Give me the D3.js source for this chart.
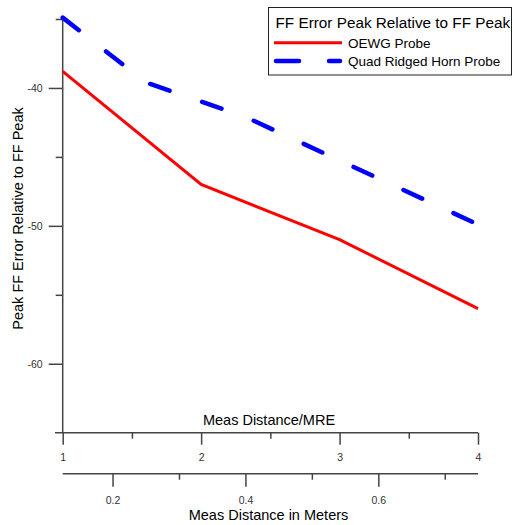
<!DOCTYPE html>
<html>
<head>
<meta charset="utf-8">
<script src="https://cdn.jsdelivr.net/npm/d3@7"></script>
<style>
  body { margin: 0; background: #fff; }
  svg { display: block; font-family: "Liberation Sans", Arial, sans-serif; }
</style>
</head>
<body>
<div id="chart"></div>
<script>
// dados
const mre = [1, 2, 3, 4];
const oewg = [-38.8, -47.0, -51.0, -56.0];
const qrhMeters = [0.125, 0.25, 0.4, 0.75];
const qrh = [-34.9, -39.6, -42.1, -49.9];

const yMajor = [-40, -50, -60];
const yMinor = [-35, -45, -55];
const mreMajor = [1, 2, 3, 4];
const mreMinor = [1.5, 2.5, 3.5];
const mMajor = [0.2, 0.4, 0.6];
const mMinor = [0.3, 0.5, 0.7];

const width = 513, height = 525;
const axisColor = '#444';
const tickFont = '10.5px';

const svg = d3.select('#chart').append('svg')
  .attr('width', width)
  .attr('height', height);

// escalas
const x = d3.scaleLinear().domain([1, 4]).range([62.7, 478]);
const xm = d3.scaleLinear().domain([0.125, 0.75]).range([62.7, 478]);
const y = d3.scaleLinear().domain([-35, -65]).range([19, 432.7]);

// helper para estilizar eixos
const styleAxis = (g) => {
  g.select('.domain').remove();
  g.selectAll('line').attr('stroke', axisColor).attr('stroke-width', 1.5);
  g.selectAll('text').attr('fill', '#333').attr('font-size', tickFont);
};

// eixo Y (hífen simples como no original)
svg.append('g')
  .attr('transform', `translate(${x(1)},0)`)
  .call(d3.axisLeft(y).tickValues(yMajor).tickSize(14).tickPadding(6).tickFormat(d => String(d)).tickSizeOuter(0))
  .call(styleAxis);
svg.append('g')
  .attr('transform', `translate(${x(1)},0)`)
  .call(d3.axisLeft(y).tickValues(yMinor).tickSize(7).tickFormat('').tickSizeOuter(0))
  .call(styleAxis);
svg.append('line')
  .attr('x1', x(1)).attr('x2', x(1))
  .attr('y1', y(-35) - 2).attr('y2', y(-65))
  .attr('stroke', axisColor).attr('stroke-width', 1.5);

// eixo X (MRE)
const y0 = y(-65);
svg.append('line')
  .attr('x1', 55).attr('x2', x(4))
  .attr('y1', y0).attr('y2', y0)
  .attr('stroke', axisColor).attr('stroke-width', 1.5);
svg.append('g')
  .attr('transform', `translate(0,${y0})`)
  .call(d3.axisBottom(x).tickValues(mreMajor).tickSize(12).tickPadding(9).tickFormat(d3.format('d')).tickSizeOuter(0))
  .call(styleAxis);
svg.append('g')
  .attr('transform', `translate(0,${y0})`)
  .call(d3.axisBottom(x).tickValues(mreMinor).tickSize(6).tickFormat('').tickSizeOuter(0))
  .call(styleAxis);

// eixo X (metros)
const y1 = 473.7;
svg.append('line')
  .attr('x1', xm(0.125)).attr('x2', xm(0.75))
  .attr('y1', y1).attr('y2', y1)
  .attr('stroke', axisColor).attr('stroke-width', 1.5);
svg.append('g')
  .attr('transform', `translate(0,${y1})`)
  .call(d3.axisBottom(xm).tickValues(mMajor).tickSize(13).tickPadding(10).tickFormat(d3.format('.1f')).tickSizeOuter(0))
  .call(styleAxis);
svg.append('g')
  .attr('transform', `translate(0,${y1})`)
  .call(d3.axisBottom(xm).tickValues(mMinor).tickSize(6).tickFormat('').tickSizeOuter(0))
  .call(styleAxis);

// títulos dos eixos
svg.append('text')
  .attr('x', 269).attr('y', 425)
  .attr('text-anchor', 'middle')
  .attr('font-size', '14.5px')
  .text('Meas Distance/MRE');
svg.append('text')
  .attr('x', 268.5).attr('y', 520)
  .attr('text-anchor', 'middle')
  .attr('font-size', '14.5px')
  .text('Meas Distance in Meters');
svg.append('text')
  .attr('transform', 'translate(22.5,218.5) rotate(-90)')
  .attr('text-anchor', 'middle')
  .attr('font-size', '14.5px')
  .text('Peak FF Error Relative to FF Peak');

// séries
const lineMre = d3.line().x(d => x(d[0])).y(d => y(d[1]));
const lineM = d3.line().x(d => xm(d[0])).y(d => y(d[1]));

svg.append('path')
  .datum(d3.zip(mre, oewg))
  .attr('d', lineMre)
  .attr('fill', 'none')
  .attr('stroke', '#ff0000')
  .attr('stroke-width', 3);

svg.append('path')
  .datum(d3.zip(qrhMeters, qrh))
  .attr('d', lineM)
  .attr('fill', 'none')
  .attr('stroke', '#0000ff')
  .attr('stroke-width', 4.5)
  .attr('stroke-linecap', 'round')
  .attr('stroke-dasharray', '20.5,34.5');

// legenda
const lg = svg.append('g');
lg.append('rect')
  .attr('x', 268.5).attr('y', 7.5)
  .attr('width', 243).attr('height', 67.5)
  .attr('fill', '#fff')
  .attr('stroke', '#222')
  .attr('stroke-width', 1);
lg.append('text')
  .attr('x', 275.5).attr('y', 28)
  .attr('font-size', '15.3px')
  .text('FF Error Peak Relative to FF Peak');
lg.append('line')
  .attr('x1', 274).attr('x2', 342)
  .attr('y1', 42.7).attr('y2', 42.7)
  .attr('stroke', '#ff0000').attr('stroke-width', 3);
lg.append('text')
  .attr('x', 348).attr('y', 47.5)
  .attr('font-size', '13.5px')
  .text('OEWG Probe');
lg.append('line')
  .attr('x1', 276).attr('x2', 340)
  .attr('y1', 61).attr('y2', 61)
  .attr('stroke', '#0000ff').attr('stroke-width', 4.5)
  .attr('stroke-linecap', 'round')
  .attr('stroke-dasharray', '23,30');
lg.append('text')
  .attr('x', 348).attr('y', 65.8)
  .attr('font-size', '13.5px')
  .text('Quad Ridged Horn Probe');
</script>
</body>
</html>
